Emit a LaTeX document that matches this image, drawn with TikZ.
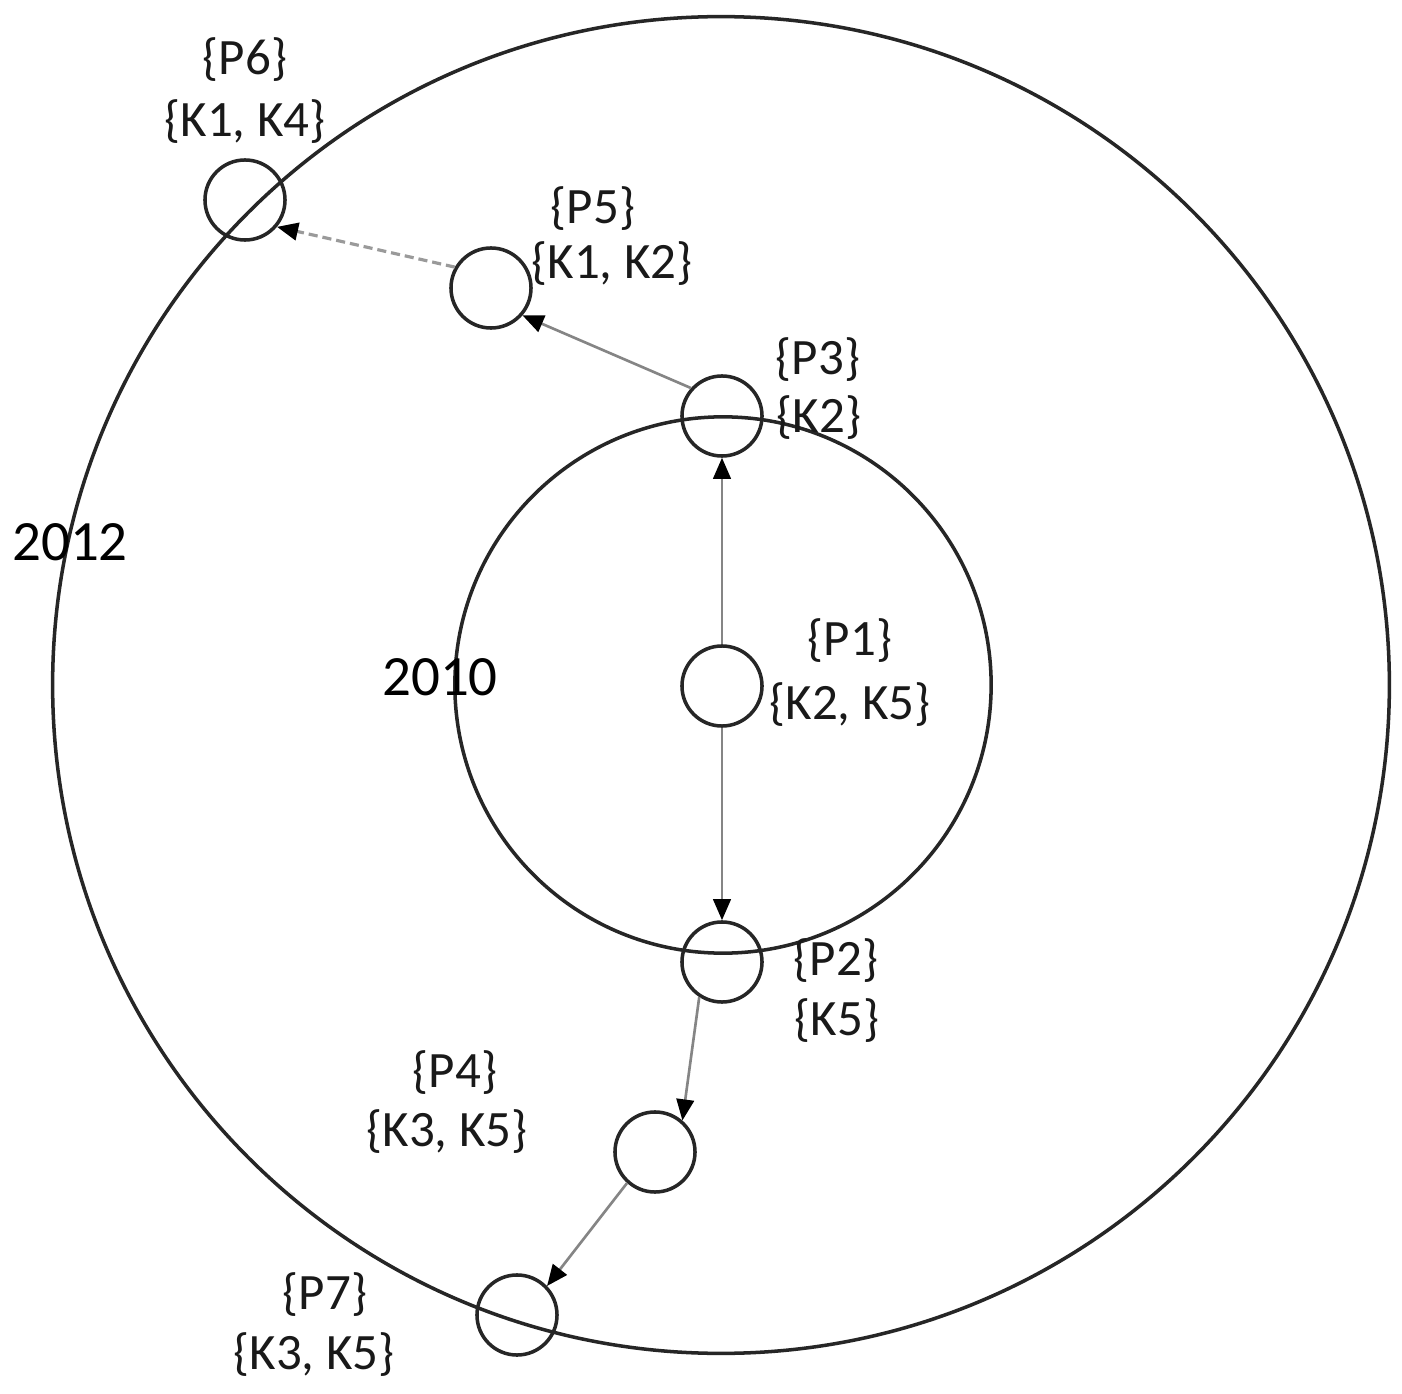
\documentclass[tikz,border=0pt]{standalone}
\usepackage{fontspec}
\setmainfont{Carlito}
\usetikzlibrary{arrows.meta}
\definecolor{ringcol}{HTML}{262626}
\definecolor{arrcol}{HTML}{858585}
\definecolor{dashcol}{HTML}{9A9A9A}
\begin{document}
\begin{tikzpicture}[x=0.01cm,y=-0.01cm,
  ring/.style={draw=ringcol,line width=1pt},
  pnode/.style={circle,draw=ringcol,line width=1pt,minimum size=0.8cm,inner sep=0pt},
  lbl/.style={inner sep=0pt,font=\fontsize{14.5}{16}\selectfont,text=black!90},
  yearlbl/.style={inner sep=0pt,font=\fontsize{16.2}{18}\selectfont,text=black},
  conn/.style={draw=arrcol,line width=0.75pt,-{Triangle[length=6pt,width=5pt,color=black]}},
  dconn/.style={draw=dashcol,line width=0.9pt,dash pattern=on 2.6pt off 1.4pt,-{Triangle[length=6pt,width=5pt,color=black]}}
]
\useasboundingbox (0,0) rectangle (1402,1394);
\fill[white] (0,0) rectangle (1402,1394);
% rings
\coordinate (outerc) at (721,685);
\coordinate (innerc) at (723,685);
\draw[ring] (outerc) circle[radius=6.68cm];
\draw[ring] (innerc) circle[radius=2.68cm];
% year labels
\node[yearlbl] (y2012) at (70,542) {2012};
\node[yearlbl] (y2010) at (440,677) {2010};
% nodes
\node[pnode] (p1) at (722,686) {};
\node[pnode] (p3) at (722,416) {};
\node[pnode] (p2) at (722,962) {};
\node[pnode] (p5) at (491,288) {};
\node[pnode] (p6) at (245,200) {};
\node[pnode] (p4) at (655,1152) {};
\node[pnode] (p7) at (517,1315) {};
% labels
\node[lbl] (l6a) at (245,60) {\{P6\}};
\node[lbl] (l6b) at (245,122) {\{K1, K4\}};
\node[lbl] (l5a) at (593,209) {\{P5\}};
\node[lbl] (l5b) at (612,264) {\{K1, K2\}};
\node[lbl] (l3a) at (818,360) {\{P3\}};
\node[lbl] (l3b) at (819,418) {\{K2\}};
\node[lbl] (l1a) at (850,641) {\{P1\}};
\node[lbl] (l1b) at (850,705) {\{K2, K5\}};
\node[lbl] (l2a) at (836,961) {\{P2\}};
\node[lbl] (l2b) at (837,1021) {\{K5\}};
\node[lbl] (l4a) at (455,1073) {\{P4\}};
\node[lbl] (l4b) at (447,1132) {\{K3, K5\}};
\node[lbl] (l7a) at (325,1295) {\{P7\}};
\node[lbl] (l7b) at (314,1355) {\{K3, K5\}};
% connectors
\draw[conn] (p1.north) -- (p3.south);
\draw[conn] (p1.south) -- (p2.north);
\draw[conn] (p3.138) -- (p5.-41);
\draw[dconn] (p5.150) -- (p6.-40);
\draw[conn] (p2.-123) -- (p4.49);
\draw[conn] (p4.-132) -- (p7.44);
\end{tikzpicture}
\end{document}
